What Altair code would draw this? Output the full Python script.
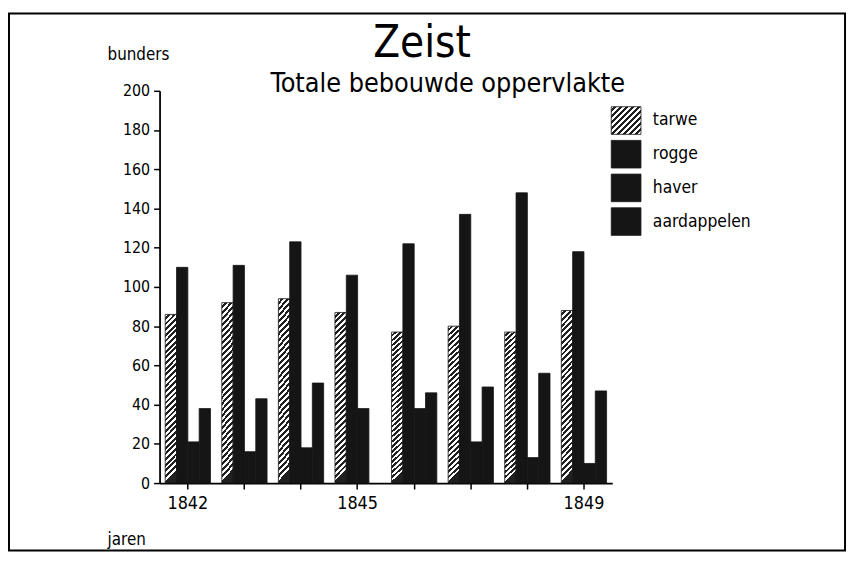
import altair as alt
import pandas as pd

years = [1842, 1843, 1844, 1845, 1846, 1847, 1848, 1849]
crops = ["tarwe", "rogge", "haver", "aardappelen"]
tarwe = [86, 92, 94, 87, 77, 80, 77, 88]
rogge = [110, 111, 123, 106, 122, 137, 148, 118]
haver = [21, 16, 18, 38, 38, 21, 13, 10]
aardappelen = [38, 43, 51, None, 46, 49, 56, 47]
labelled_years = ["1842", "1845", "1849"]
y_ticks = list(range(0, 201, 20))

series = dict(zip(crops, [tarwe, rogge, haver, aardappelen]))
rows = [
    {"year": y, "crop": c, "value": series[c][i]}
    for c in crops
    for i, y in enumerate(years)
    if series[c][i] is not None
]
df = pd.DataFrame(rows)
legend_df = pd.DataFrame({"crop": crops})

FONT = "DejaVu Sans Condensed, DejaVu Sans, sans-serif"
INK = "#151515"


def hatch(ax, n):
    stops = []
    for k in range(n):
        a, m, b = k / n, (k + 0.5) / n, (k + 1) / n
        stops += [
            {"offset": a, "color": "#ffffff"},
            {"offset": m, "color": "#ffffff"},
            {"offset": m, "color": "#202020"},
            {"offset": b, "color": "#202020"},
        ]
    return {"gradient": "linear", "x1": 0, "y1": 0, "x2": ax, "y2": 1, "stops": stops}


bar_fill = alt.condition(alt.datum.crop == "tarwe", alt.value(hatch(0.068, 30)), alt.value(INK))
swatch_fill = alt.condition(alt.datum.crop == "tarwe", alt.value(hatch(1.07, 10)), alt.value(INK))

bars = alt.Chart(df).mark_bar(stroke=INK, strokeWidth=0.8).encode(
    x=alt.X(
        "year:O",
        scale=alt.Scale(paddingInner=0.2, paddingOuter=0.1),
        axis=alt.Axis(
            title="jaren",
            titleX=-53,
            titleY=62,
            titleAlign="left",
            titleBaseline="alphabetic",
            titleAngle=0,
            labelExpr="indexof(" + str(labelled_years) + ", datum.label) >= 0 ? datum.label : ''",
            labelAngle=0,
            labelPadding=6,
            labelFontSize=18,
        ),
    ),
    xOffset=alt.XOffset("crop:N", sort=crops, scale=alt.Scale(domain=crops, paddingInner=0, paddingOuter=0)),
    y=alt.Y(
        "value:Q",
        scale=alt.Scale(domain=[0, 200], nice=False),
        axis=alt.Axis(
            values=y_ticks,
            title="bunders",
            titleAngle=0,
            titleX=-53,
            titleY=-32,
            titleAlign="left",
            titleBaseline="alphabetic",
            labelPadding=4,
            labelFontSize=16,
        ),
    ),
    fill=bar_fill,
)

legend_y = alt.Y(
    "crop:N",
    sort=crops,
    axis=None,
    scale=alt.Scale(domain=crops, range=[13, 149], paddingInner=0.18, paddingOuter=0.09),
)
legend_sw = alt.Chart(legend_df).mark_rect(stroke=INK, strokeWidth=0.8).encode(
    x=alt.value(456), x2=alt.value(486), y=legend_y, fill=swatch_fill
)
legend_tx = alt.Chart(legend_df).mark_text(
    align="left", baseline="middle", font=FONT, fontSize=17.5, color="black"
).encode(x=alt.value(498), y=legend_y, text="crop:N")
legend = alt.layer(legend_sw, legend_tx)

title = alt.Chart(legend_df.head(1)).mark_text(
    text="Zeist", font=FONT, fontSize=44, align="center", baseline="alphabetic", color="black"
).encode(x=alt.value(265), y=alt.value(-34))
subtitle = alt.Chart(legend_df.head(1)).mark_text(
    text="Totale bebouwde oppervlakte", font=FONT, fontSize=27, align="center",
    baseline="alphabetic", color="black"
).encode(x=alt.value(291), y=alt.value(1))
frame = alt.Chart(legend_df.head(1)).mark_rect(filled=False, stroke="black", strokeWidth=2).encode(
    x=alt.value(-152), x2=alt.value(692), y=alt.value(-78), y2=alt.value(464)
)

chart = (
    alt.layer(bars, legend, title, subtitle, frame)
    .resolve_scale(y="independent")
    .properties(
        width=457,
        height=396,
        padding={"left": 153, "top": 81, "right": 238, "bottom": 69},
        autosize=alt.AutoSizeParams(type="none"),
        background="white",
    )
    .configure_view(stroke=None)
    .configure_axis(
        domainColor="black",
        domainWidth=1.8,
        tickColor="black",
        tickWidth=1.5,
        tickSize=6,
        grid=False,
        labelFont=FONT,
        labelColor="black",
        titleFont=FONT,
        titleFontSize=17,
        titleFontWeight="normal",
        titleColor="black",
    )
)

chart.save("out.html", embed_options={"renderer": "svg", "actions": False})
